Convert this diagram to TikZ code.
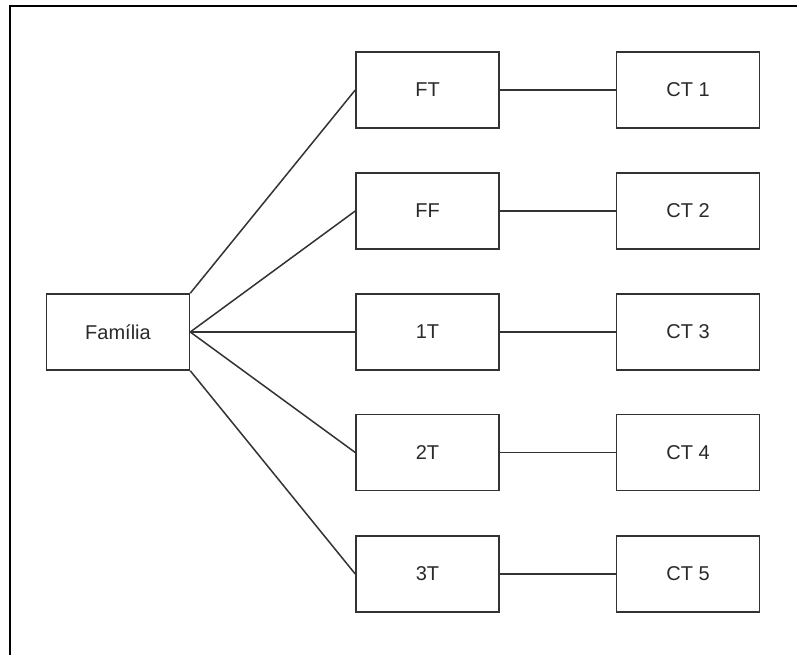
\documentclass[tikz,border=0pt]{standalone}
\usepackage{fontspec}
\setmainfont{Liberation Sans}
\definecolor{linegrey}{HTML}{333333}
\definecolor{textgrey}{HTML}{2A2A2A}
\begin{document}
\begin{tikzpicture}[x=1pt,y=-1pt,
  box/.style={draw=linegrey,line width=1.5pt,minimum width=143pt,minimum height=76pt,
    inner sep=0pt,font=\fontsize{20}{23}\selectfont,text=textgrey},
  link/.style={draw=linegrey,line width=1.5pt}]
\useasboundingbox (0,0) rectangle (797,655);
\fill[white] (0,0) rectangle (797,655);
\draw[line width=2pt,black] (10,655) -- (10,6.5) -- (797,6.5);
\node[box] (fam) at (118,332) {Família};
\node[box] (ft) at (427.5,90) {FT};
\node[box] (ff) at (427.5,211) {FF};
\node[box] (t1) at (427.5,332) {1T};
\node[box] (t2) at (427.5,452.5) {2T};
\node[box] (t3) at (427.5,574) {3T};
\node[box] (c1) at (688,90) {CT 1};
\node[box] (c2) at (688,211) {CT 2};
\node[box] (c3) at (688,332) {CT 3};
\node[box] (c4) at (688,452.5) {CT 4};
\node[box] (c5) at (688,574) {CT 5};
\draw[link] (fam.north east) -- (ft.west);
\draw[link] (fam.east) -- (ff.west);
\draw[link] (fam.east) -- (t1.west);
\draw[link] (fam.east) -- (t2.west);
\draw[link] (fam.south east) -- (t3.west);
\draw[link] (ft) -- (c1);
\draw[link] (ff) -- (c2);
\draw[link] (t1) -- (c3);
\draw[link] (t2) -- (c4);
\draw[link] (t3) -- (c5);
\end{tikzpicture}
\end{document}
